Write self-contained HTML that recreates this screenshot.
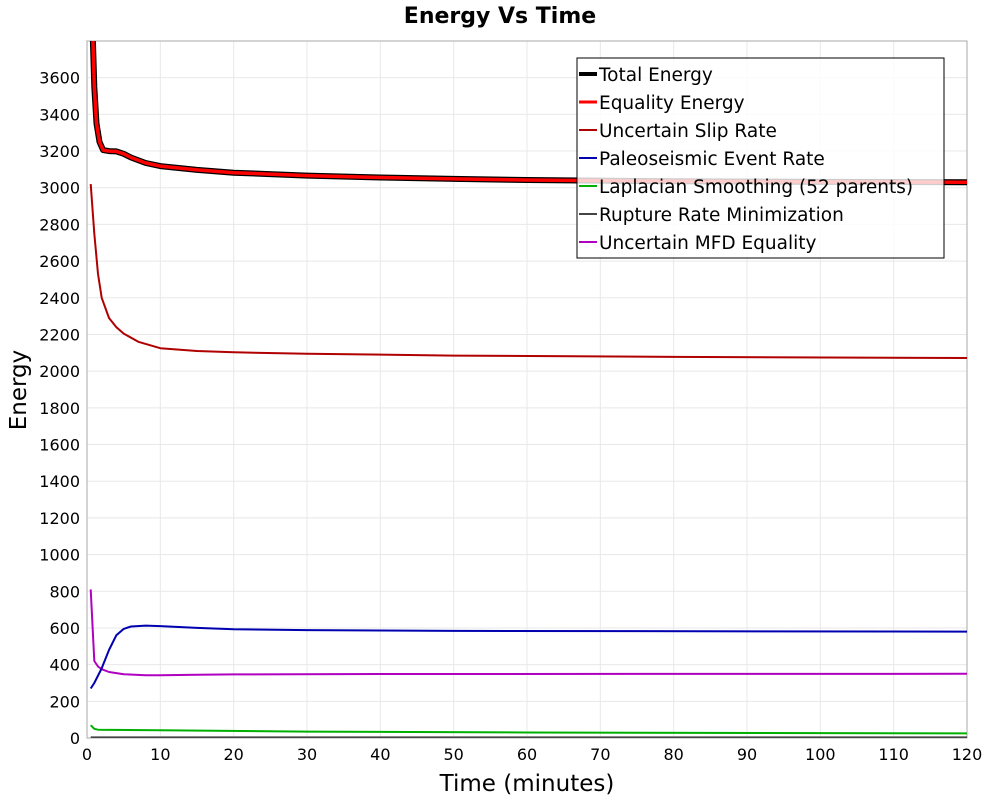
<!DOCTYPE html>
<html><head><meta charset="utf-8"><style>
body{margin:0;background:#fff;}
svg{display:block;font-family:"DejaVu Sans","Liberation Sans",sans-serif;}
</style></head><body>
<svg id="chart" width="1000" height="800">
<text x="500" y="23" text-anchor="middle" font-size="22" font-weight="bold">Energy Vs Time</text>
<g id="grid"></g>
<rect x="87" y="41" width="880" height="697" fill="none" stroke="#aaa"/>
<g id="series"></g>
<g id="axes"></g>
<text x="527" y="791" text-anchor="middle" font-size="23">Time (minutes)</text>
<text transform="translate(26,390) rotate(-90)" text-anchor="middle" font-size="23">Energy</text>
<g id="legend"></g>
</svg>
<script>
const xTicks=[0,10,20,30,40,50,60,70,80,90,100,110,120];
const yTicks=[0,200,400,600,800,1000,1200,1400,1600,1800,2000,2200,2400,2600,2800,3000,3200,3400,3600];
const seriesNames=["Total Energy","Equality Energy","Uncertain Slip Rate","Paleoseismic Event Rate","Laplacian Smoothing (52 parents)","Rupture Rate Minimization","Uncertain MFD Equality"];
const totalT=[0.5,0.8,1,1.3,1.7,2.2,3,4,5,6,8,10,15,20,30,40,50,60,80,100,120];
const totalV=[4200,3800,3550,3350,3250,3205,3200,3198,3185,3165,3135,3118,3097,3082,3066,3056,3048,3042,3035,3032,3030];
const slipT=[0.5,1,1.5,2,3,4,5,7,10,15,20,30,50,80,120];
const slipV=[3020,2750,2530,2400,2290,2240,2205,2160,2125,2110,2103,2095,2085,2078,2072];
const paleoT=[0.5,1,2,3,4,5,6,8,10,15,20,30,50,120];
const paleoV=[270,300,380,480,560,595,608,613,610,600,593,588,584,580];
const mfdT=[0.5,1,1.5,2,3,5,8,10,15,20,40,120];
const mfdV=[810,420,390,375,360,348,342,342,345,347,349,350];
const lapT=[0.5,1,1.5,10,30,60,120];
const lapV=[70,50,45,42,35,30,25];
const rupT=[0.5,120];
const rupV=[3,3];
const NS="http://www.w3.org/2000/svg";
const X=t=>87+t/120*880;
const Y=v=>738-v/3800*697;
function mk(tag,attrs,parent){const e=document.createElementNS(NS,tag);for(const k in attrs)e.setAttribute(k,attrs[k]);parent.appendChild(e);return e;}
const grid=document.getElementById('grid'),axes=document.getElementById('axes'),ser=document.getElementById('series'),leg=document.getElementById('legend');
xTicks.forEach(t=>{
 const l=mk('line',{x1:X(t),x2:X(t),y1:41,y2:738,stroke:'#e8e8e8'},grid);
 
 
 const tx=mk('text',{x:X(t),y:760,'text-anchor':'middle','font-size':16},axes);tx.textContent=t;
 
 
});
yTicks.forEach(v=>{
 const l=mk('line',{x1:87,x2:967,y1:Y(v),y2:Y(v),stroke:'#e8e8e8'},grid);
 
 
 const tx=mk('text',{x:80,y:Y(v)+6,'text-anchor':'end','font-size':16},axes);tx.textContent=v;
 
 
});
const defs=[[rupT,rupV,'#444',2,'rupture-rate-line'],[lapT,lapV,'#00b000',2,'laplacian-line'],[mfdT,mfdV,'#b000c0',2,'mfd-equality-line'],[paleoT,paleoV,'#0000b0',2,'paleoseismic-line'],[slipT,slipV,'#b00000',2,'slip-rate-line'],[totalT,totalV,'#000',6,'total-energy-line'],[totalT,totalV,'#ff0000',3.5,'equality-energy-line']];
const cp=mk('clipPath',{id:'cp'},document.getElementById('chart'));mk('rect',{x:87,y:41,width:880,height:697},cp);
defs.forEach(d=>{
 const pts=d[0].map((t,i)=>X(t).toFixed(1)+','+Y(d[1][i]).toFixed(1)).join(' ');
 const p=mk('polyline',{points:pts,fill:'none',stroke:d[2],'stroke-width':d[3],'stroke-linejoin':'round','clip-path':'url(#cp)'},ser);
 
 
});
const lb=mk('rect',{x:577,y:58,width:367,height:200,fill:'rgba(255,255,255,0.8)',stroke:'#000'},leg);


const lc=['#000','#ff0000','#b00000','#0000b0','#00b000','#444','#b000c0'],lw=[4,3,2,2,2,2,2];
seriesNames.forEach((n,i)=>{
 const y=74+i*28;
 const ln=mk('line',{x1:579,x2:597,y1:y,y2:y,stroke:lc[i],'stroke-width':lw[i]},leg);
 
 
 const tx=mk('text',{x:599,y:y+7,'font-size':18.5},leg);tx.textContent=n;
 
 
});
</script>
</body></html>
